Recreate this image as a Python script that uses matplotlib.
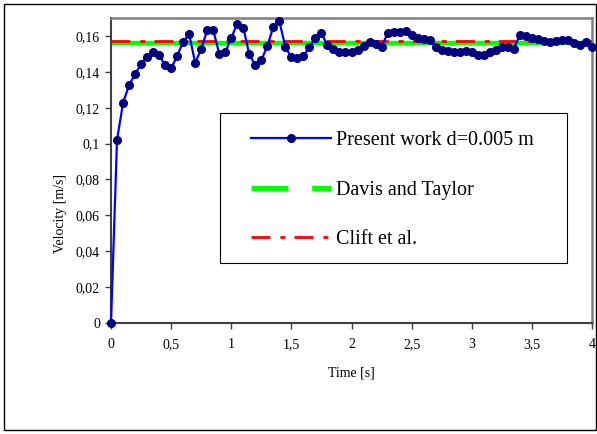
import matplotlib
matplotlib.use("Agg")
import matplotlib.pyplot as plt
from matplotlib.lines import Line2D
from matplotlib.patches import Rectangle
from matplotlib.ticker import FuncFormatter

plt.rcParams['font.family'] = ['Liberation Serif', 'DejaVu Serif']

# Datos
time_s = [0.00, 0.05, 0.10, 0.15, 0.20, 0.25, 0.30, 0.35, 0.40, 0.45,
          0.50, 0.55, 0.60, 0.65, 0.70, 0.75, 0.80, 0.85, 0.90, 0.95,
          1.00, 1.05, 1.10, 1.15, 1.20, 1.25, 1.30, 1.35, 1.40, 1.45,
          1.50, 1.55, 1.60, 1.65, 1.70, 1.75, 1.80, 1.85, 1.90, 1.95,
          2.00, 2.05, 2.10, 2.15, 2.20, 2.25, 2.30, 2.35, 2.40, 2.45,
          2.50, 2.55, 2.60, 2.65, 2.70, 2.75, 2.80, 2.85, 2.90, 2.95,
          3.00, 3.05, 3.10, 3.15, 3.20, 3.25, 3.30, 3.35, 3.40, 3.45,
          3.50, 3.55, 3.60, 3.65, 3.70, 3.75, 3.80, 3.85, 3.90, 3.95,
          4.00]
velocity = [0.0, 0.1020, 0.1226, 0.1326, 0.1387, 0.1443, 0.1484, 0.1512, 0.1493, 0.1437,
            0.1419, 0.1489, 0.1567, 0.1610, 0.1450, 0.1526, 0.1632, 0.1632, 0.1502, 0.1510,
            0.1588, 0.1669, 0.1647, 0.1497, 0.1437, 0.1465, 0.1543, 0.1651, 0.1682, 0.1539,
            0.1480, 0.1475, 0.1489, 0.1536, 0.1590, 0.1614, 0.1549, 0.1526, 0.1508, 0.1508,
            0.1512, 0.1521, 0.1545, 0.1567, 0.1553, 0.1540, 0.1614, 0.1623, 0.1623, 0.1627,
            0.1604, 0.1590, 0.1582, 0.1577, 0.1540, 0.1521, 0.1515, 0.1508, 0.1508, 0.1515,
            0.1508, 0.1493, 0.1495, 0.1512, 0.1521, 0.1536, 0.1536, 0.1530, 0.1604, 0.1599,
            0.1590, 0.1582, 0.1571, 0.1567, 0.1571, 0.1577, 0.1577, 0.1558, 0.1549, 0.1567,
            0.1536]
davis_taylor = 0.1562
clift = 0.1571

fig = plt.figure(figsize=(5.97, 4.34), dpi=100)
fig.patches.append(Rectangle((4 / 597, 4 / 434), 592 / 597, 426 / 434,
                             transform=fig.transFigure, fill=False,
                             edgecolor='black', linewidth=1.0))
ax = fig.add_axes([111 / 597, 111 / 434, 481 / 597, 305 / 434])

ax.plot([0, 4], [davis_taylor, davis_taylor], color='#00FF00', linewidth=3.2, zorder=2)
ax.plot([0, 4], [clift, clift], color='#FF0000', linewidth=2.0,
        dashes=(6.8, 3.6, 1.8, 3.3), zorder=3)
ax.plot(time_s, velocity, color='#0000FF', linewidth=1.6, marker='o',
        markersize=5.5, markerfacecolor='#000080', markeredgecolor='#000080', zorder=4,
        clip_on=False)

ax.set_xlim(0, 4)
ax.set_ylim(0, 0.17)
ax.set_xticks([0, 0.5, 1, 1.5, 2, 2.5, 3, 3.5, 4])
ax.set_yticks([0, 0.02, 0.04, 0.06, 0.08, 0.1, 0.12, 0.14, 0.16])
comma = FuncFormatter(lambda v, p: ('%g' % round(v, 3)).replace('.', ','))
ax.xaxis.set_major_formatter(comma)
ax.yaxis.set_major_formatter(comma)
ax.tick_params(axis='both', direction='out', length=4, width=1, labelsize=10,
               colors='#404040', labelcolor='black')
ax.tick_params(axis='x', pad=7)
ax.tick_params(axis='y', pad=4)

for side in ['left', 'bottom']:
    ax.spines[side].set_color('#404040')
    ax.spines[side].set_linewidth(1.5)
for side in ['top', 'right']:
    ax.spines[side].set_color('#808080')
    ax.spines[side].set_linewidth(1.8)

ax.set_xlabel("Time [s]", fontsize=10)
ax.xaxis.set_label_coords(0.5, -0.164)
ax.xaxis.label.set_va('center')
ax.set_ylabel("Velocity [m/s]", fontsize=10)
ax.yaxis.set_label_coords(-0.106, 0.36)
ax.yaxis.label.set_va('center')

# caja de la leyenda (dibujada aparte, mas ancha que el contenido)
ax.add_patch(Rectangle(((220 - 111) / 481, (323 - 263) / 305), 347 / 481, 150 / 305,
                       transform=ax.transAxes, facecolor='white', edgecolor='black',
                       linewidth=0.8, zorder=5))

handles = [
    Line2D([], [], color='#0000FF', linewidth=1.6, marker='o', markersize=5.5,
           markerfacecolor='#000080', markeredgecolor='#000080'),
    Line2D([], [], color='#00FF00', linewidth=3.8, dashes=(7.0, 4.5)),
    Line2D([], [], color='#FF0000', linewidth=2.0, dashes=(6.8, 3.6, 1.8, 3.3)),
]
labels = ["Present work d=0.005 m", "Davis and Taylor", "Clift et al."]
leg = ax.legend(handles, labels, loc='center left',
                bbox_to_anchor=((251 - 111) / 481, (323 - 190) / 305),
                borderaxespad=0, borderpad=0, fontsize=14.5, handlelength=3.95,
                handletextpad=0.25, labelspacing=1.5, frameon=False)
leg.set_zorder(6)

fig.savefig("out.png", dpi=100)
